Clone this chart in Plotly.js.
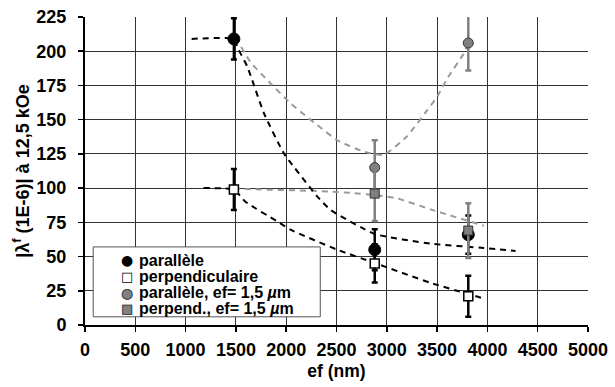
<!DOCTYPE html>
<html>
<head>
<meta charset="utf-8">
<script src="https://cdn.plot.ly/plotly-3.0.1.min.js"></script>
<style>html,body{margin:0;padding:0;background:#fff;}#chart{width:615px;height:387px;}</style>
</head>
<body>
<div id="chart"></div>
<script>
// Measured points
const parX = [1480, 2880, 3810];
const parY = [209, 55, 66];
const parErr = [15, 15, 14];

const perpX = [1480, 2880, 3810];
const perpY = [99, 45, 21];
const perpErr = [15, 14, 15];

const par15X = [2880, 3810];
const par15Y = [115, 206];
const par15Err = [20, 20];

const perp15X = [2880, 3810];
const perp15Y = [96, 69];
const perp15Err = [20, 20];

// Trend curves
const parFitX = [1060, 1480, 1520, 1612, 1777, 1976, 2308, 2442, 2880, 3434, 3964, 4280];
const parFitY = [209, 209, 202, 189, 155, 125.5, 94, 84, 66.5, 59.4, 56.3, 54];

const perpFitX = [1178, 1480, 1595, 1910, 2043, 2507, 2880, 3434, 3981];
const perpFitY = [100, 99, 90, 75.7, 69.6, 55, 45.3, 30.8, 19];

const par15FitX = [1480, 1529, 1645, 1844, 2043, 2507, 2771, 2970, 3203, 3402, 3501, 3600, 3765, 3810];
const par15FitY = [209, 205.7, 192, 176.5, 162, 135, 126.7, 124.3, 138, 157, 166.8, 180, 198.4, 206];

const perp15FitX = [1480, 1529, 2274, 2440, 2639, 2880, 3103, 3434, 3964];
const perp15FitY = [100, 99.5, 98, 97.5, 96.5, 95, 92.5, 84.5, 72.5];

const xTicks = [0, 500, 1000, 1500, 2000, 2500, 3000, 3500, 4000, 4500, 5000];
const yTicks = [0, 25, 50, 75, 100, 125, 150, 175, 200, 225];

const seriesNames = ['parallèle', 'perpendiculaire', 'parallèle, ef= 1,5 <i>µ</i>m', 'perpend., ef= 1,5 <i>µ</i>m'];

const FONT = 'Liberation Sans, Arial, sans-serif';
const grayLine = '#9a9a9a';
const grayMark = '#808080';

function fit(x, y, color) {
  return {x: x, y: y, mode: 'lines', type: 'scatter', showlegend: false, hoverinfo: 'skip',
    line: {color: color, width: 2, dash: '6px,5px', shape: 'spline', smoothing: 0.45}};
}

const traces = [
  fit(par15FitX, par15FitY, grayLine),
  fit(perp15FitX, perp15FitY, grayLine),
  fit(parFitX, parFitY, '#000'),
  fit(perpFitX, perpFitY, '#000'),
  {x: parX, y: parY, name: seriesNames[0], mode: 'markers', type: 'scatter', showlegend: false,
    marker: {symbol: 'circle', size: 12, color: '#000', line: {color: '#000', width: 1}},
    error_y: {type: 'data', array: parErr, visible: true, color: '#000', thickness: 2.5, width: 3}},
  {x: perpX, y: perpY, name: seriesNames[1], mode: 'markers', type: 'scatter', showlegend: false,
    marker: {symbol: 'square', size: 9, color: '#fff', line: {color: '#000', width: 1.5}},
    error_y: {type: 'data', array: perpErr, visible: true, color: '#000', thickness: 2.5, width: 3}},
  {x: par15X, y: par15Y, name: seriesNames[2], mode: 'markers', type: 'scatter', showlegend: false,
    marker: {symbol: 'circle', size: 10, color: grayMark, line: {color: '#333', width: 1}},
    error_y: {type: 'data', array: par15Err, visible: true, color: grayMark, thickness: 2.5, width: 3}},
  {x: perp15X, y: perp15Y, name: seriesNames[3], mode: 'markers', type: 'scatter', showlegend: false,
    marker: {symbol: 'square', size: 9, color: grayMark, line: {color: '#333', width: 1}},
    error_y: {type: 'data', array: perp15Err, visible: true, color: grayMark, thickness: 2.5, width: 3}}
];

// Legend drawn as a boxed key (paper coordinates)
const legRowsY = [0.2110, 0.1590, 0.1050, 0.0530];
const legSymX = 0.0838, legTextX = 0.1030;
const legSymbols = [
  [{t: '●', c: '#000', s: 14}],
  [{t: '□', c: '#000', s: 13}],
  [{t: '●', c: grayMark, s: 14}, {t: '○', c: '#333', s: 14}],
  [{t: '■', c: grayMark, s: 13}, {t: '□', c: '#333', s: 13}]
];
const annotations = [];
seriesNames.forEach((n, i) => {
  legSymbols[i].forEach(s => annotations.push({
    xref: 'paper', yref: 'paper', x: legSymX, y: legRowsY[i], xanchor: 'center', yanchor: 'middle',
    text: s.t, showarrow: false, font: {family: 'DejaVu Sans', size: s.s, color: s.c}
  }));
  annotations.push({
    xref: 'paper', yref: 'paper', x: legTextX, y: legRowsY[i], xanchor: 'left', yanchor: 'middle',
    text: '<b>' + n + '</b>', showarrow: false, font: {family: FONT, size: 16, color: '#000'}
  });
});

const layout = {
  width: 615, height: 387,
  margin: {l: 84.5, r: 27, t: 17, b: 61.5},
  paper_bgcolor: '#fff', plot_bgcolor: '#fff',
  font: {family: FONT, color: '#000'},
  showlegend: false,
  shapes: [{type: 'rect', xref: 'paper', yref: 'paper', x0: 0.0163, x1: 0.4677, y0: 0.0266, y1: 0.2535,
    line: {color: '#555', width: 1}, fillcolor: '#fff', layer: 'above'}],
  annotations: annotations,
  xaxis: {
    range: [0, 5000], tickvals: xTicks, ticktext: xTicks.map(v => '<b>' + v + '</b>'),
    showgrid: true, gridcolor: '#333', gridwidth: 1,
    showline: true, linecolor: '#000', linewidth: 2,
    ticks: 'outside', ticklen: 5, tickcolor: '#000', tickwidth: 1.5,
    ticklabelstandoff: 2,
    zeroline: false, fixedrange: true,
    tickfont: {family: FONT, size: 18, color: '#000'},
    title: {text: '<b>ef (nm)</b>', font: {family: FONT, size: 17.5, color: '#000'}, standoff: 6}
  },
  yaxis: {
    range: [0, 225], tickvals: yTicks, ticktext: yTicks.map(v => '<b>' + v + '</b>'),
    showgrid: true, gridcolor: '#333', gridwidth: 1,
    showline: true, linecolor: '#000', linewidth: 2,
    ticks: 'outside', ticklen: 5, tickcolor: '#000', tickwidth: 1.5,
    ticklabelstandoff: 8,
    zeroline: false, fixedrange: true,
    tickfont: {family: FONT, size: 18, color: '#000'},
    title: {text: '<b>|λ<sup>f</sup> (1E-6)| à 12,5 kOe</b>', font: {family: FONT, size: 18, color: '#000'}, standoff: 2}
  }
};

Plotly.newPlot('chart', traces, layout, {staticPlot: true, displayModeBar: false});
</script>
</body>
</html>
